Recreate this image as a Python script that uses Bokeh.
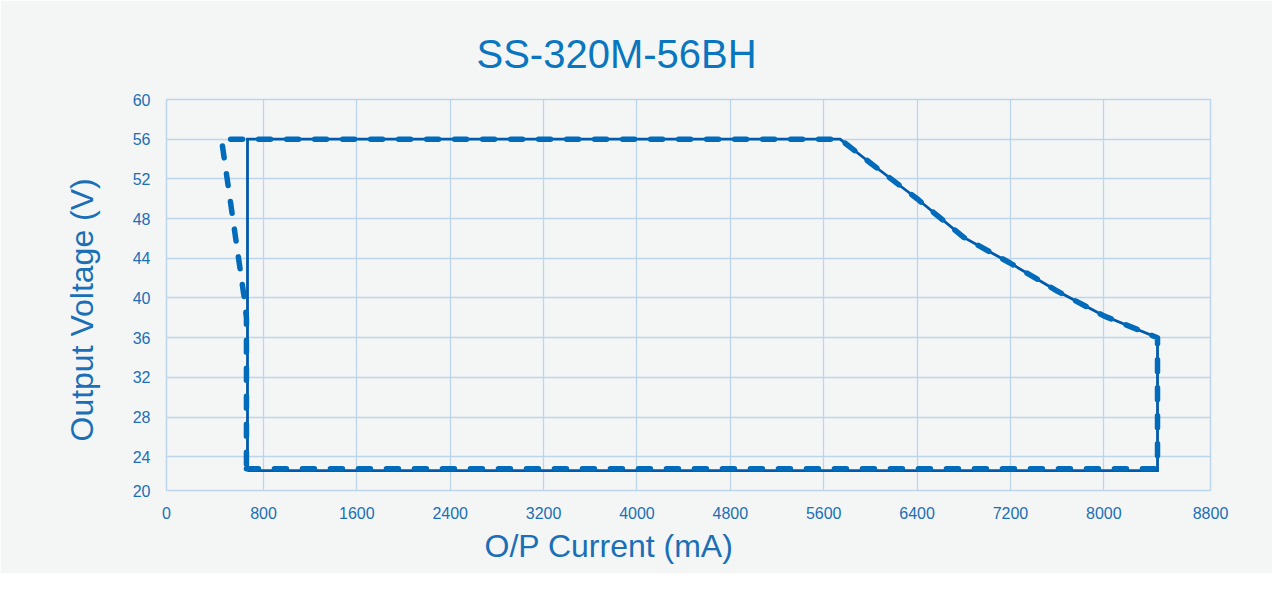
from bokeh.plotting import figure
from bokeh.models import Range1d, FixedTicker, Title
from bokeh.embed import file_html
from bokeh.resources import INLINE

# ---------------- data ----------------
title_text = "SS-320M-56BH"
x_label_text = "O/P Current (mA)"
y_label_text = "Output  Voltage (V)"

x_tick_values = [0, 800, 1600, 2400, 3200, 4000, 4800, 5600, 6400, 7200, 8000, 8800]
y_tick_values = [20, 24, 28, 32, 36, 40, 44, 48, 52, 56, 60]

solid_current = [663, 663, 5740, 6000, 6400, 6800, 7200, 7600, 8000, 8460, 8460, 663]
solid_voltage = [22.6, 56.0, 56.0, 53.6, 50.0, 46.1, 43.5, 40.7, 38.2, 36.0, 22.6, 22.6]

dashed_current = [654, 8460, 8460, 8000, 7600, 7200, 6800, 6400, 6000, 5740, 440, 635, 654, 654]
dashed_voltage = [22.8, 22.8, 36.0, 38.2, 40.7, 43.5, 46.1, 50.0, 53.6, 56.0, 56.0, 40.0, 38.0, 22.8]

# ---------------- style ----------------
BG = "#f4f6f6"
GRID = "#bcd5ea"
LABEL_C = "#1a6fb6"
TITLE_C = "#0a76bf"
SOLID_C = "#0059aa"
DASH_C = "#006bbb"
FONT = "Liberation Sans"

X0, X1 = -31, 8914
Y0, Y1 = 20.6, 60

p = figure(frame_width=1044, frame_height=391,
           x_range=Range1d(X0, X1), y_range=Range1d(Y0, Y1),
           output_backend="svg", toolbar_location=None,
           min_border_left=166, min_border_right=62,
           min_border_top=99, min_border_bottom=83)

p.background_fill_color = BG
p.border_fill_color = BG
p.outline_line_color = GRID
p.outline_line_width = 1.5

# ticks placed at the frame edges for the first / last labels
x_ticks = [X0] + x_tick_values[1:-1] + [X1]
y_ticks = [Y0] + y_tick_values[1:-1] + [Y1]
x_over = {t: str(v) for t, v in zip(x_ticks, x_tick_values)}
y_over = {t: str(v) for t, v in zip(y_ticks, y_tick_values)}

p.xaxis.ticker = FixedTicker(ticks=x_ticks)
p.yaxis.ticker = FixedTicker(ticks=y_ticks)
p.xaxis.major_label_overrides = x_over
p.yaxis.major_label_overrides = y_over

for ax in (p.xaxis, p.yaxis):
    ax.axis_line_color = None
    ax.major_tick_line_color = None
    ax.minor_tick_line_color = None
    ax.major_label_text_color = LABEL_C
    ax.major_label_text_font = FONT
    ax.major_label_text_font_size = "16px"
p.xaxis.major_label_standoff = 10
p.yaxis.major_label_standoff = 10

p.xgrid.grid_line_color = GRID
p.ygrid.grid_line_color = GRID
p.xgrid.grid_line_width = 1.3
p.ygrid.grid_line_width = 1.3

# curves
p.line(solid_current, solid_voltage, line_color=SOLID_C, line_width=2.8,
       line_join="miter")
p.line(dashed_current, dashed_voltage, line_color=DASH_C, line_width=5.5,
       line_dash="12 16", line_cap="round", line_join="round")

# texts as side titles
p.add_layout(Title(text=title_text, align="left", offset=310, standoff=47,
                   text_font=FONT, text_font_size="40px", text_font_style="normal",
                   text_color=TITLE_C), "above")
p.add_layout(Title(text=x_label_text, align="left", offset=318, standoff=8,
                   text_font=FONT, text_font_size="32px", text_font_style="normal",
                   text_color=LABEL_C), "below")
p.add_layout(Title(text=y_label_text, align="left", offset=49, standoff=60,
                   text_font=FONT, text_font_size="32px", text_font_style="normal",
                   text_color=LABEL_C), "left")

open("out.html", "w").write(file_html(p, INLINE))
